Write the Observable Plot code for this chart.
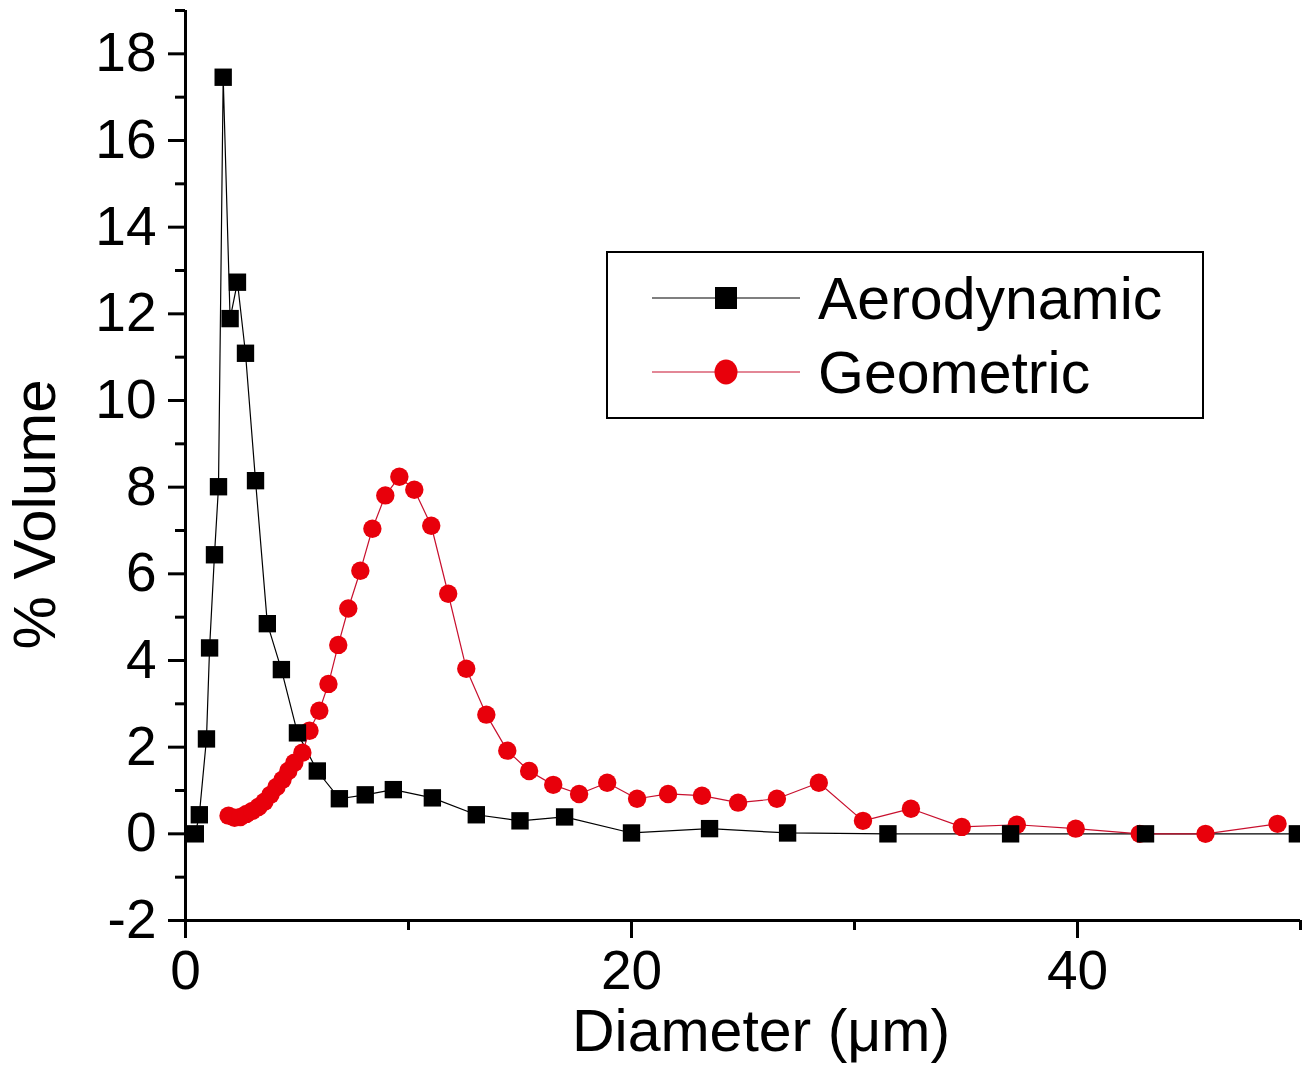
<!DOCTYPE html>
<html>
<head>
<meta charset="utf-8">
<script src="https://cdn.jsdelivr.net/npm/d3@7"></script>
<script src="https://cdn.jsdelivr.net/npm/@observablehq/plot@0.6"></script>
<style>
  html, body { margin: 0; padding: 0; background: #fff; }
  #wrap { position: relative; width: 1313px; height: 1065px; font-family: "Liberation Sans", Arial, sans-serif; }
  #legend { position: absolute; left: 0; top: 0; }
</style>
</head>
<body>
<div id="wrap"></div>
<script>
// ---- data ----
const aeroX = [0.44, 0.62, 0.94, 1.08, 1.30, 1.48, 1.69, 2.00, 2.33, 2.69, 3.14, 3.67, 4.30, 5.02, 5.91, 6.90, 8.06, 9.32, 11.07, 13.04, 15.00, 17.00, 20.00, 23.50, 27.00, 31.50, 37.00, 43.05, 49.86];
const aeroY = [0.00, 0.44, 2.19, 4.29, 6.44, 8.01, 17.46, 11.89, 12.73, 11.09, 8.15, 4.85, 3.79, 2.33, 1.45, 0.81, 0.90, 1.02, 0.83, 0.44, 0.30, 0.39, 0.02, 0.12, 0.02, 0.00, 0.00, 0.00, 0.00];

const geoX = [1.93, 2.20, 2.46, 2.73, 3.00, 3.27, 3.54, 3.81, 4.08, 4.35, 4.61, 4.88, 5.24, 5.56, 6.00, 6.41, 6.85, 7.30, 7.84, 8.38, 8.96, 9.59, 10.26, 11.02, 11.78, 12.59, 13.49, 14.43, 15.41, 16.49, 17.65, 18.91, 20.25, 21.64, 23.16, 24.78, 26.52, 28.40, 30.38, 32.53, 34.81, 37.28, 39.92, 42.79, 45.74, 48.97];
const geoY = [0.42, 0.37, 0.39, 0.46, 0.53, 0.62, 0.74, 0.90, 1.08, 1.25, 1.45, 1.64, 1.87, 2.38, 2.84, 3.46, 4.36, 5.20, 6.07, 7.04, 7.81, 8.24, 7.94, 7.11, 5.54, 3.81, 2.75, 1.92, 1.45, 1.13, 0.92, 1.18, 0.81, 0.92, 0.88, 0.72, 0.81, 1.18, 0.30, 0.58, 0.16, 0.21, 0.12, 0.00, 0.00, 0.23];

const seriesNames = ["Aerodynamic", "Geometric"];
const xMajorTicks = [0, 20, 40];
const xMinorTicks = [10, 30, 50];
const yMajorTicks = [-2, 0, 2, 4, 6, 8, 10, 12, 14, 16, 18];
const yMinorTicks = [-1, 1, 3, 5, 7, 9, 11, 13, 15, 17, 19];
const xTitle = "Diameter (μm)";
const yTitle = "% Volume";

const aero = aeroX.map((x, i) => ({x, y: aeroY[i]}));
const geo = geoX.map((x, i) => ({x, y: geoY[i]}));

const RED = "#e8000b";
const FONT = "'Liberation Sans', Arial, sans-serif";
const plain = d => String(d);

const chart = Plot.plot({
  width: 1313,
  height: 1065,
  marginLeft: 185,
  marginRight: 13,
  marginTop: 10,
  marginBottom: 145,
  style: {fontFamily: FONT, background: "white", color: "black"},
  x: {domain: [0, 50]},
  y: {domain: [-2, 19]},
  marks: [
    // axis lines
    Plot.ruleX([0], {stroke: "black", strokeWidth: 3}),
    Plot.ruleY([-2], {stroke: "black", strokeWidth: 3}),
    // y ticks
    Plot.axisY({ticks: yMajorTicks, tickSize: 17, tickPadding: 12, strokeWidth: 3, fontSize: 55,
      tickFormat: plain, label: null}),
    Plot.axisY({ticks: yMinorTicks, tickSize: 10, strokeWidth: 3, tickFormat: () => "", label: null}),
    // x ticks
    Plot.axisX({ticks: xMajorTicks, tickSize: 18, tickPadding: 11, strokeWidth: 3, fontSize: 55,
      tickFormat: plain, label: null}),
    Plot.axisX({ticks: xMinorTicks, tickSize: 10, strokeWidth: 3, tickFormat: () => "", label: null}),
    // axis titles
    Plot.text([xTitle], {frameAnchor: "bottom", dx: 18, dy: 112, lineAnchor: "middle", textAnchor: "middle",
      fontSize: 59, fill: "black"}),
    Plot.text([yTitle], {frameAnchor: "left", dx: -150, dy: 49, rotate: -90, lineAnchor: "middle", textAnchor: "middle",
      fontSize: 60, fill: "black"}),
    // series
    Plot.line(aero, {x: "x", y: "y", stroke: "black", strokeWidth: 1.2}),
    Plot.line(geo, {x: "x", y: "y", stroke: "#c8102e", strokeWidth: 1.2}),
    Plot.dot(geo, {x: "x", y: "y", r: 9.2, fill: RED, stroke: "none"}),
    Plot.dot(aero, {x: "x", y: "y", r: 9.8, symbol: "square", fill: "black", stroke: "none", clip: true})
  ]
});

const wrap = document.getElementById("wrap");
wrap.appendChild(chart);

// ---- legend overlay ----
const ns = "http://www.w3.org/2000/svg";
const leg = document.createElementNS(ns, "svg");
leg.setAttribute("id", "legend");
leg.setAttribute("width", 1313);
leg.setAttribute("height", 1065);
leg.style.pointerEvents = "none";
const add = (tag, attrs, text) => {
  const el = document.createElementNS(ns, tag);
  for (const k in attrs) el.setAttribute(k, attrs[k]);
  if (text) el.textContent = text;
  leg.appendChild(el);
  return el;
};
add("rect", {x: 607, y: 252, width: 596, height: 166, fill: "white", stroke: "black", "stroke-width": 2});
const rows = [
  {name: seriesNames[0], y: 298, color: "black", line: "black", sym: "square"},
  {name: seriesNames[1], y: 372, color: RED, line: "#c8102e", sym: "circle"}
];
for (const r of rows) {
  add("line", {x1: 652, x2: 800, y1: r.y, y2: r.y, stroke: r.line, "stroke-width": 1.2});
  if (r.sym === "square") add("rect", {x: 726 - 11, y: r.y - 11, width: 22, height: 22, fill: r.color});
  else add("ellipse", {cx: 726, cy: r.y, rx: 11.5, ry: 12.5, fill: r.color});
  add("text", {x: 818, y: r.y + 21, "font-size": 59, "font-family": FONT, fill: "black"}, r.name);
}
wrap.appendChild(leg);
</script>
</body>
</html>
